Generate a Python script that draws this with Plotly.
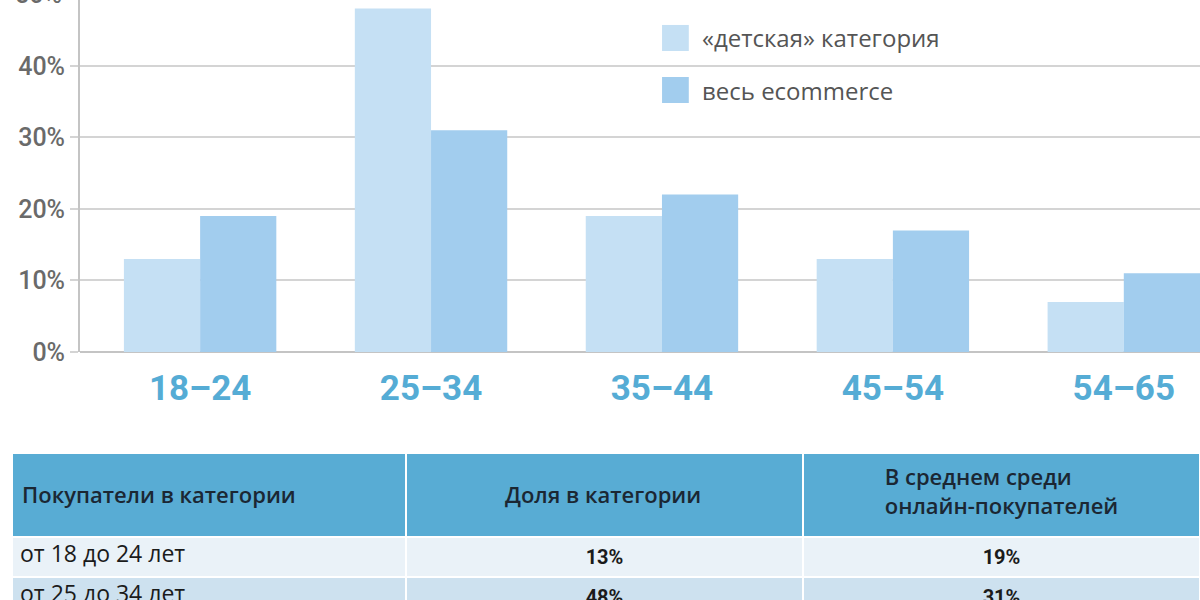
import plotly.graph_objects as go

# Colors
kids_color = "#c5e0f4"
ecom_color = "#a2cdee"
label_blue = "#55acd5"
header_color = "#58acd4"
row_colors = ["#eaf2f8", "#cde1ef"]

# ------------------------------
# Data
# ------------------------------
age_groups = ["18–24", "25–34", "35–44", "45–54", "54–65"]
kids_share = [13, 48, 19, 13, 7]
ecom_share = [19, 31, 22, 17, 11]
y_ticks = [0, 10, 20, 30, 40]
y_tick_labels = [f"{v}%" for v in y_ticks]

legend_names = ["«детская» категория", "весь ecommerce"]

table_header = [
    "Покупатели в категории",
    "Доля в категории",
    "В среднем среди<br>онлайн-покупателей",
]
row_labels = ["от 18 до 24 лет", "от 25 до 34 лет", "от 35 до 44 лет",
              "от 45 до 54 лет", "от 54 до 65 лет"]

y_top = 49.2
header_font = dict(family="Open Sans", size=22, color="#1b2733", weight=600)
ytick_font = dict(family="Roboto", size=25, color="#6a6a6a", weight=500)

# ------------------------------
# Figure
# ------------------------------
fig = go.Figure()

fig.add_trace(
    go.Bar(
        name=legend_names[0],
        x=age_groups,
        y=kids_share,
        marker_color=kids_color,
        marker_line_width=0,
        hovertemplate="%{x}: %{y}%<extra></extra>",
    )
)
fig.add_trace(
    go.Bar(
        name=legend_names[1],
        x=age_groups,
        y=ecom_share,
        marker_color=ecom_color,
        marker_line_width=0,
        hovertemplate="%{x}: %{y}%<extra></extra>",
    )
)

fig.add_trace(
    go.Table(
        domain=dict(x=[0.01, 1], y=[0, 0.245]),
        columnwidth=[394, 397, 397],
        header=dict(
            # first two headers are drawn as annotations so they sit in the middle
            values=["", "", table_header[2]],
            fill_color=header_color,
            line=dict(color="white", width=2),
            align=["left", "center", "center"],
            font=header_font,
            height=84,
        ),
        cells=dict(
            values=[
                row_labels,
                [f"<b>{v}%</b>" for v in kids_share],
                [f"<b>{v}%</b>" for v in ecom_share],
            ],
            fill_color=[[row_colors[i % 2] for i in range(len(row_labels))]] * 3,
            line=dict(color="white", width=2),
            align=["left", "center", "center"],
            font=dict(
                family=["Open Sans", "Roboto", "Roboto"],
                size=[23, 20, 20],
                color="#1b1b1b",
            ),
            height=39,
        ),
    )
)

# header texts of the first two columns
fig.add_annotation(
    text=table_header[0], xref="paper", yref="paper", x=0.0167, y=0.1767,
    xanchor="left", yanchor="middle", showarrow=False, font=header_font,
)
fig.add_annotation(
    text=table_header[1], xref="paper", yref="paper", x=0.5025, y=0.1767,
    xanchor="center", yanchor="middle", showarrow=False, font=header_font,
)

# hand made legend (bigger squares than the built-in one)
legend_y = [0.9367, 0.85]
for name, color, ly in zip(legend_names, [kids_color, ecom_color], legend_y):
    fig.add_shape(
        type="rect", xref="paper", yref="paper",
        x0=0.5517, x1=0.574, y0=ly - 0.0217, y1=ly + 0.0217,
        fillcolor=color, line_width=0,
    )
    fig.add_annotation(
        text=name, xref="paper", yref="paper", x=0.5833, y=ly,
        xanchor="left", yanchor="middle", showarrow=False,
        font=dict(family="Open Sans", size=24, color="#555555"),
    )

# 50% tick label, cut off at the top of the picture
fig.add_annotation(
    text="50%", xref="paper", yref="y domain", x=0.0667, y=50 / y_top,
    xanchor="right", yanchor="middle", xshift=-16, showarrow=False,
    font=ytick_font,
)

fig.update_layout(
    width=1200,
    height=600,
    margin=dict(l=0, r=0, t=0, b=0),
    paper_bgcolor="white",
    plot_bgcolor="white",
    showlegend=False,
    barmode="group",
    bargap=0.34,
    bargroupgap=0,
    xaxis=dict(
        domain=[0.0667, 1],
        range=[-0.52, 4.33],
        showgrid=False,
        showline=False,
        ticks="",
        ticklabelstandoff=12,
        tickfont=dict(family="Roboto", size=35, color=label_blue, weight="bold"),
        automargin=False,
    ),
    yaxis=dict(
        domain=[0.4133, 1],
        range=[0, y_top],
        tickvals=y_ticks,
        ticktext=y_tick_labels,
        showgrid=True,
        gridcolor="#d4d4d4",
        gridwidth=2,
        zeroline=True,
        zerolinecolor="#c4c4c4",
        zerolinewidth=2,
        showline=True,
        linecolor="#c4c4c4",
        linewidth=2,
        ticks="outside",
        ticklen=8,
        tickwidth=2,
        tickcolor="#d4d4d4",
        ticklabelstandoff=0,
        tickfont=ytick_font,
        automargin=False,
    ),
)

fig.write_html(
    "out.html",
    config={"displayModeBar": False},
    post_script="document.body.style.margin = '0';",
)
